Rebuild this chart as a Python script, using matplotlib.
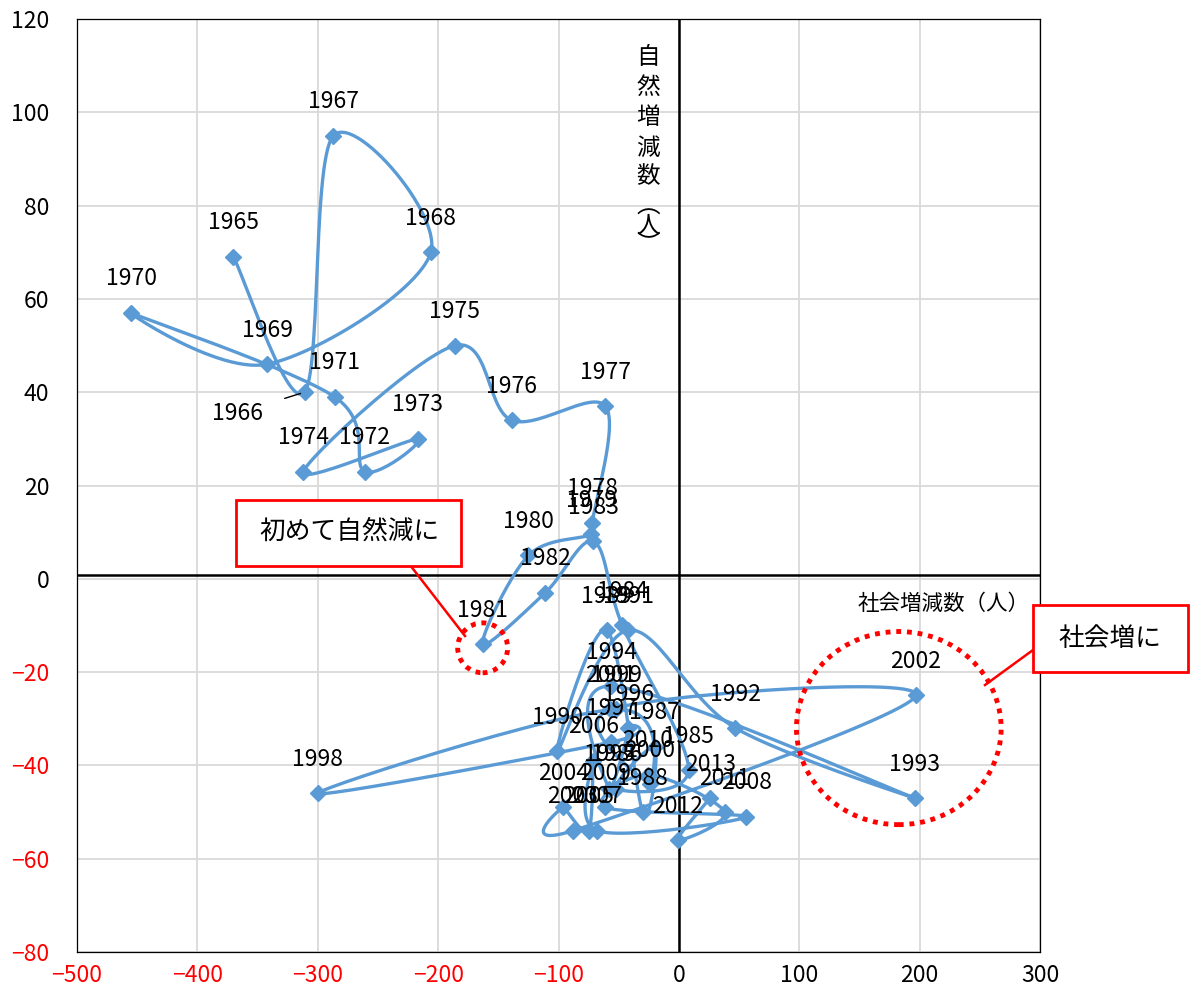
import numpy as np
import matplotlib
matplotlib.use("Agg")
import matplotlib.pyplot as plt
from matplotlib.patches import Ellipse, Rectangle
from matplotlib.lines import Line2D

plt.rcParams['font.family'] = ['Noto Sans CJK JP', 'DejaVu Sans']

# data: social change (x) and natural change (y) per year
years = list(range(1965, 2014))
social = [-370, -311, -287, -206, -342, -455, -286, -261, -217, -312,
          -186, -139, -61, -72, -73, -125, -163, -111, -71, -47,
          8, -52, -20, -30, -60, -101, -42, 47, 196, -56,
          -58, -42, -56, -300, -52, -24, -57, 197, -88, -96,
          -75, -71, -68, 56, -61, -26, 38, -1, 26]
natural = [69, 40, 95, 70, 46, 57, 39, 23, 30, 23,
           50, 34, 37, 12, 9.5, 5, -14, -3, 8, -10,
           -41, -45, -36, -50, -11, -37, -11, -32, -47, -23,
           -45, -32, -35, -46, -28, -44, -28, -25, -54, -49,
           -54, -39, -54, -51, -49, -42, -50, -56, -47]

xticks = list(range(-500, 301, 100))
yticks = list(range(-80, 121, 20))

W, H = 1197, 993
BLUE = '#5B9BD5'


def smooth(xs, ys, n=30):
    # bezier smoothing like a spreadsheet "smoothed line"
    p = np.column_stack([xs, ys]).astype(float)
    out = []
    t = np.linspace(0, 1, n)[:, None]
    for i in range(len(p) - 1):
        p0 = p[max(i - 1, 0)]
        p1 = p[i]
        p2 = p[i + 1]
        p3 = p[min(i + 2, len(p) - 1)]
        c1 = p1 + (p2 - p0) / 6
        c2 = p2 - (p3 - p1) / 6
        seg = ((1 - t) ** 3) * p1 + 3 * ((1 - t) ** 2) * t * c1 + 3 * (1 - t) * t ** 2 * c2 + t ** 3 * p2
        out.append(seg if i == 0 else seg[1:])
    s = np.vstack(out)
    return s[:, 0], s[:, 1]


def fx(px):
    return px / W


def fy(py):
    return 1 - py / H


fig = plt.figure(figsize=(W / 100, H / 100), dpi=100)
ax = fig.add_axes([fx(77), fy(952), (1040 - 77) / W, (952 - 19) / H])

ax.set_xlim(-500, 300)
ax.set_ylim(-80, 120)
ax.set_xticks(xticks)
ax.set_yticks(yticks)
ax.grid(True, color='#D9D9D9', lw=1.3)
ax.set_axisbelow(True)
for s in ax.spines.values():
    s.set_color('black')
    s.set_linewidth(0.9)
ax.tick_params(length=0, labelsize=16.5)
ax.tick_params(axis='y', pad=20)
ax.tick_params(axis='x', pad=9)
for lab, v in zip(ax.get_xticklabels(), xticks):
    lab.set_color('red' if v < 0 else 'black')
for lab, v in zip(ax.get_yticklabels(), yticks):
    lab.set_color('red' if v < 0 else 'black')

ax.axhline(0.9, color='black', lw=1.8, zorder=2)
ax.axvline(0, color='black', lw=1.8, zorder=2)

sx, sy = smooth(social, natural)
ax.plot(sx, sy, color=BLUE, lw=2.4, zorder=3)
ax.plot(social, natural, 'D', color=BLUE, ms=8, zorder=4)

for yr, x, y in zip(years, social, natural):
    if yr == 1966:
        ax.annotate(str(yr), (x, y), xytext=(-48, -15), textcoords='offset points',
                    ha='center', va='center', fontsize=16.5,
                    arrowprops=dict(arrowstyle='-', color='black', lw=1,
                                    shrinkA=14, shrinkB=3), zorder=5)
    else:
        ax.annotate(str(yr), (x, y), xytext=(0, 24.5), textcoords='offset points',
                    ha='center', va='center', fontsize=16.5, zorder=5)

# axis titles
ax.text(291, -5.4, '社会増減数（人）', ha='right', va='center', fontsize=15.5)
for ch, py in zip(['自', '然', '増', '減', '数', '︵', '人', '︶'],
                  [57, 87, 118, 148, 177, 207, 226, 245]):
    fig.text(fx(648), fy(py), ch, ha='center', va='center', fontsize=17)

# dotted circles
ax.add_patch(Ellipse((-163, -14.8), 41.5, 10.7, fill=False, ec='red', lw=3.5,
                     ls=(0, (1, 1.2)), zorder=6))
ax.add_patch(Ellipse((182.7, -32.0), 170, 41.4, fill=False, ec='red', lw=3.5,
                     ls=(0, (1, 1.2)), zorder=6))

# callout boxes
fig.add_artist(Line2D([fx(410), fx(465)], [fy(565), fy(636)], color='red', lw=1.8))
fig.add_artist(Rectangle((fx(236), fy(566)), (461 - 236) / W, (566 - 500) / H,
                         fill=True, fc='white', ec='red', lw=2, zorder=7))
fig.text(fx(349), fy(532), '初めて自然減に', ha='center', va='center', fontsize=18.5, zorder=8)

fig.add_artist(Line2D([fx(1033), fx(985)], [fy(650), fy(685)], color='red', lw=1.8))
fig.add_artist(Rectangle((fx(1033), fy(672)), (1188 - 1033) / W, (672 - 605) / H,
                         fill=True, fc='white', ec='red', lw=2, zorder=7))
fig.text(fx(1110), fy(639), '社会増に', ha='center', va='center', fontsize=18.5, zorder=8)

fig.savefig('out.png', dpi=100)
